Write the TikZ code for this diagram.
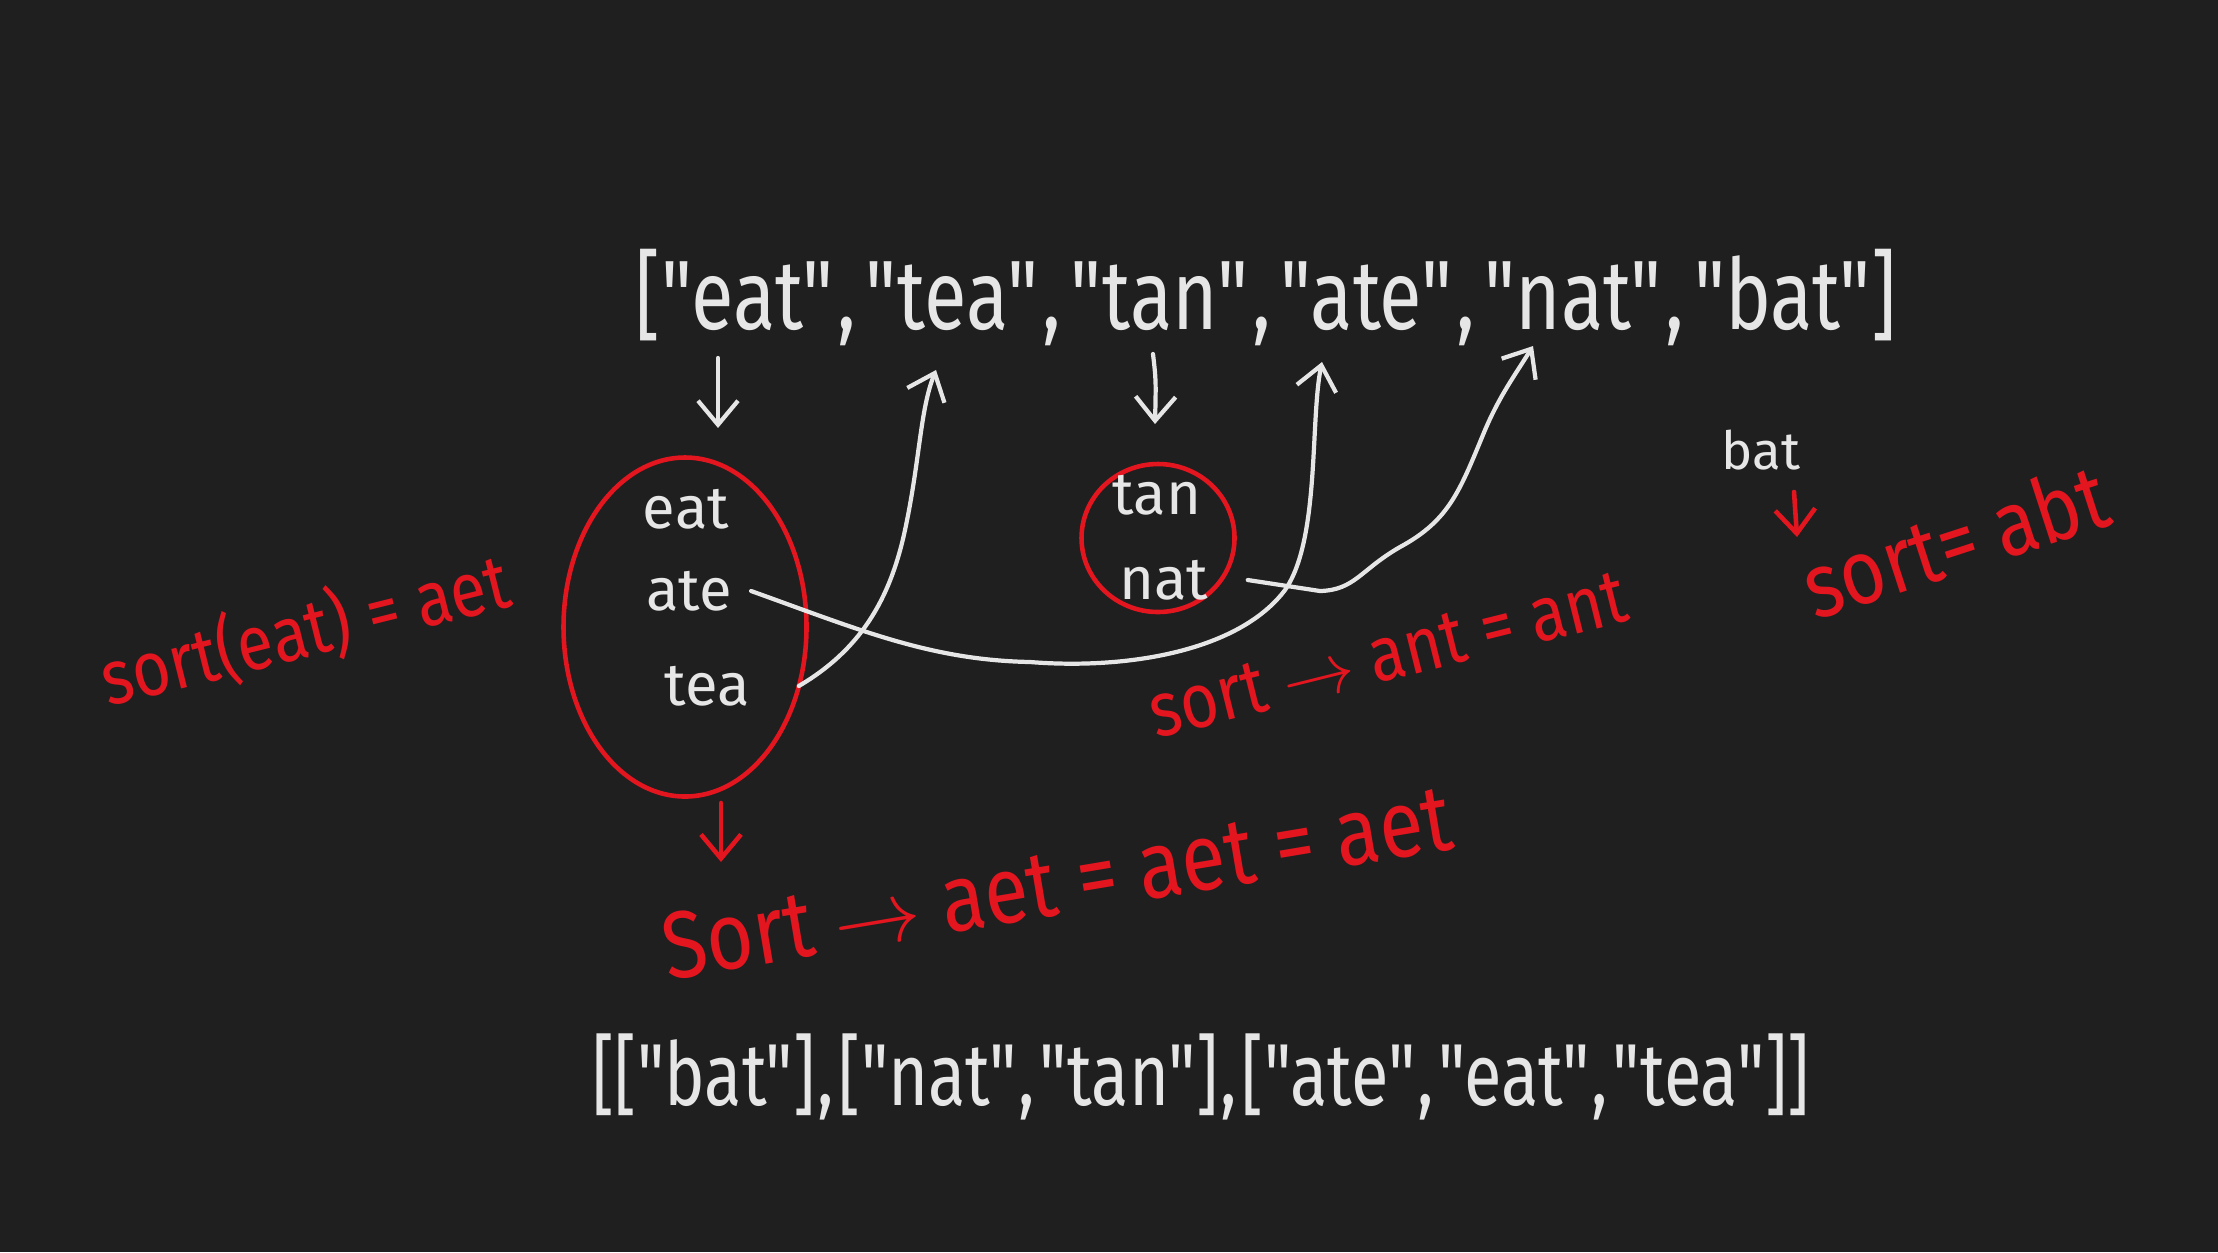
\documentclass[tikz,border=0pt]{standalone}
\usepackage{fontspec}
\setmainfont{Fira Sans}
\newfontfamily\handfont[FakeStretch=0.85]{Fira Sans}
\newfontfamily\listfont[FakeStretch=0.79]{Fira Sans}
\newfontfamily\outfont[FakeStretch=0.78]{Fira Sans}
\usetikzlibrary{shapes.geometric,arrows.meta,calc}
\definecolor{bg}{HTML}{1F1F1F}
\definecolor{chalk}{HTML}{E6E6E6}
\definecolor{marker}{HTML}{E3161F}
\newcommand{\cm}{\kern0.04em,\kern0.1em}
\newcommand{\cmo}{\kern0.02em,\kern0.05em}
\tikzset{
  listtext/.style={text=chalk,inner sep=0pt,font=\listfont\fontsize{28}{30}\selectfont},
  word/.style={text=chalk,inner sep=1pt,font=\fontsize{17}{18}\selectfont},
  redtext/.style={text=marker,inner sep=0pt,font=\handfont\fontsize{22}{24}\selectfont},
  group/.style={draw=marker,line width=1.3pt,ellipse,inner sep=0pt},
  wline/.style={draw=chalk,line width=1.2pt,line cap=round,line join=round},
  rline/.style={draw=marker,line width=1.3pt,line cap=round,line join=round},
  barb/.style={-{Straight Barb[length=2.4mm,width=4mm]}},
}
\begin{document}
\begin{tikzpicture}
\fill[bg] (0,0) rectangle (22.18,-12.52);
\useasboundingbox (0,0) rectangle (22.18,-12.52);

% input and output lists
\node[listtext] (input) at (12.66,-2.98) {["eat"\cm"tea"\cm"tan"\cm"ate"\cm"nat"\cm"bat"]};
\node[listtext,font=\outfont\fontsize{25}{27}\selectfont] (output) at (12.01,-10.77) {[["bat"]\cmo["nat"\cmo"tan"]\cmo["ate"\cmo"eat"\cmo"tea"]]};

% groups
\node[group,minimum width=2.43cm,minimum height=3.39cm] (g1) at (6.85,-6.27) {};
\node[group,minimum width=1.53cm,minimum height=1.48cm] (g2) at (11.58,-5.38) {};

% words
\node[word] (weat) at (6.86,-5.09) {eat};
\node[word] (wate) at (6.89,-5.91) {ate};
\node[word] (wtea) at (7.07,-6.86) {tea};
\node[word] (wtan) at (11.57,-4.95) {tan};
\node[word] (wnat) at (11.64,-5.80) {nat};
\node[word,font=\fontsize{15}{16}\selectfont] (wbat) at (17.61,-4.50) {bat};

% coordinates at the words of the input list
\coordinate (inEat) at (7.18,-3.58);
\coordinate (inEatEnd) at (7.18,-4.28);
\coordinate (inTea) at (9.36,-3.70);
\coordinate (inTan) at (11.53,-3.54);
\coordinate (inTanEnd) at (11.55,-4.24);
\coordinate (inAte) at (13.22,-3.62);
\coordinate (inNat) at (15.33,-3.46);

% white arrows
\draw[wline,barb] (inEat) -- (inEatEnd);
\draw[wline,barb] (inTan) .. controls (11.56,-3.8) .. (inTanEnd);
\draw[wline,barb] ([xshift=0.45cm]wtea.east) .. controls (8.6,-6.5) and (8.9,-6.0) .. (9.05,-5.3)
   .. controls (9.2,-4.6) and (9.2,-4.1) .. (inTea);
\draw[wline,barb] ([xshift=0.15cm]wate.east) .. controls (8.6,-6.3) and (9.3,-6.6) .. (10.3,-6.62)
   .. controls (11.3,-6.7) and (12.4,-6.5) .. (12.85,-5.9)
   .. controls (13.2,-5.4) and (13.1,-4.2) .. (inAte);
\draw[wline,barb] ([xshift=0.35cm]wnat.east) -- (13.2,-5.91) .. controls (13.55,-5.9) and (13.6,-5.7) .. (14.0,-5.47)
   .. controls (14.5,-5.2) and (14.6,-4.9) .. (14.85,-4.3) .. controls (15.0,-3.95) and (15.15,-3.75) .. (inNat);

% red annotations
\node[redtext,rotate=14] (lbl1) at (3.05,-6.30) {sort(eat) = aet};
\node[redtext,rotate=14] (lbl2) at (13.88,-6.55) {sort $\rightarrow$ ant = ant};
\node[redtext,rotate=9.5,font=\handfont\fontsize{27}{29}\selectfont] (lbl3) at (10.57,-8.82) {Sort $\rightarrow$ aet = aet = aet};
\node[redtext,rotate=18,font=\handfont\fontsize{26}{28}\selectfont] (lbl4) at (19.55,-5.40) {sort= abt};

\coordinate (g1Low) at (7.21,-8.03);
\coordinate (g1LowEnd) at (7.21,-8.62);
\draw[rline,barb] (g1Low) -- (g1LowEnd);
\coordinate (batLow) at (17.94,-4.92);
\coordinate (batLowEnd) at (17.97,-5.37);
\draw[rline,barb] (batLow) -- (batLowEnd);
\end{tikzpicture}
\end{document}
